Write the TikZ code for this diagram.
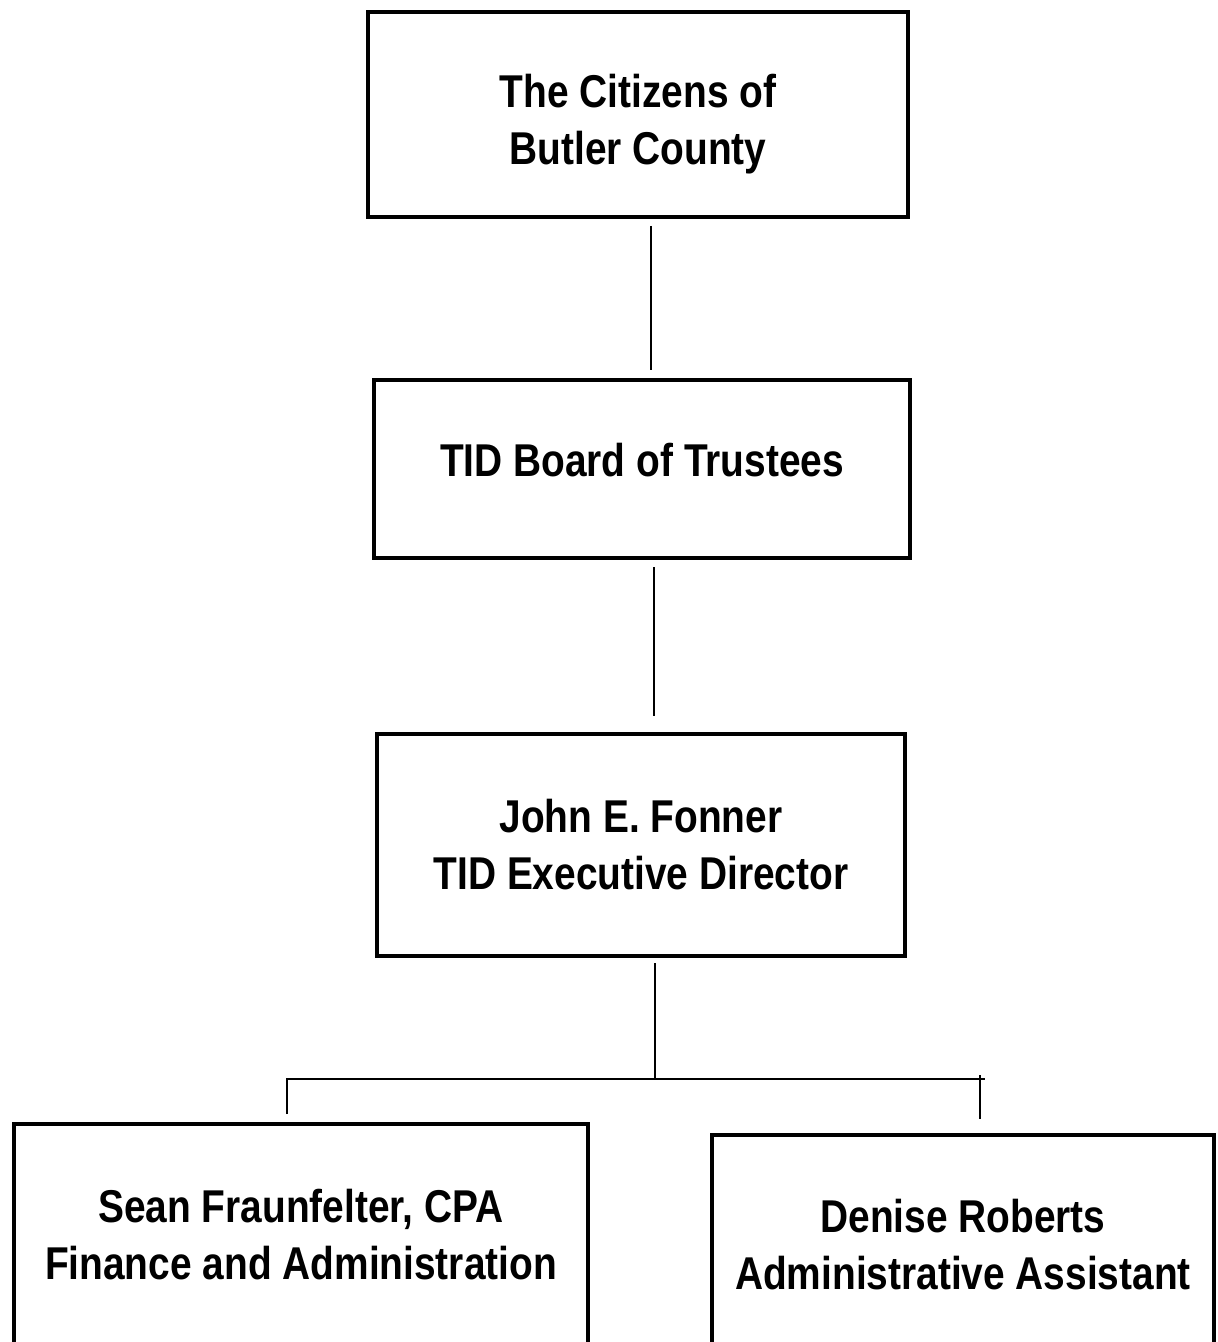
\documentclass[tikz,border=0pt]{standalone}
\usepackage{fontspec}
\setmainfont{Liberation Sans}[FakeStretch=0.845]
\usetikzlibrary{calc}
\begin{document}
\begin{tikzpicture}[x=0.5pt,y=-0.5pt,
  orgbox/.style={draw=black, line width=2pt, rectangle, align=center,
    font=\fontsize{23}{28.5}\selectfont\bfseries, inner sep=0pt},
  link/.style={draw=black, line width=1pt}]
\useasboundingbox (0,0) rectangle (1218,1342);
\fill[white] (0,0) rectangle (1218,1342);

\node[orgbox, minimum width=270pt, minimum height=102.5pt] (b1) at (638,114.5)
  {\rule{0pt}{26pt}The Citizens of\\Butler County};
\node[orgbox, minimum width=268pt, minimum height=89pt] (b2) at (642,469)
  {\rule[-9pt]{0pt}{9pt}TID Board of Trustees};
\node[orgbox, minimum width=264pt, minimum height=111pt] (b3) at (641,845)
  {John E. Fonner\\TID Executive Director};
\node[orgbox, minimum width=287pt, minimum height=111pt] (b4) at (301,1235)
  {Sean Fraunfelter, CPA\\Finance and Administration};
\node[orgbox, minimum width=251pt, minimum height=110pt] (b5) at (963,1245)
  {Denise Roberts\\Administrative Assistant};

\coordinate (j) at (655,1079);
\coordinate (rt) at (980,1075);
\coordinate (re) at (985,1079);

\draw[link] ([yshift=-3.5pt]b1.south -| 651,0) -- ([yshift=4pt]b2.north -| 651,0);
\draw[link] ([yshift=-3.5pt]b2.south -| 654,0) -- ([yshift=8pt]b3.north -| 654,0);
\draw[link] ([yshift=-2.5pt]b3.south -| j) -- (j);
\draw[link] ([yshift=4pt]b4.north -| 287,0) |- (j) -- (re);
\draw[link] (rt) -- ([yshift=7pt]b5.north -| rt);
\end{tikzpicture}
\end{document}
